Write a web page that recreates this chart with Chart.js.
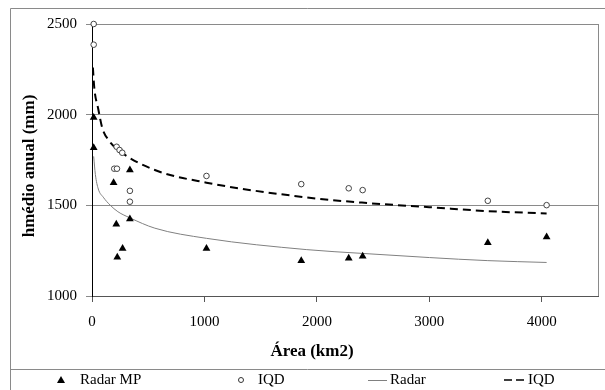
<!DOCTYPE html>
<html lang="pt">
<head>
<meta charset="UTF-8" />
<title>Área vs hmédio anual</title>
<script src="https://cdn.jsdelivr.net/npm/chart.js"></script>
<style>
  body { margin: 0; background: #fff; }
  #wrap { position: relative; width: 605px; height: 390px; }
</style>
</head>
<body>
<div id="wrap"><canvas id="chart" width="605" height="390"></canvas></div>
<script>
  // observed points (area km2, mm)
  const radarMpArea = [15, 15, 192, 337, 216, 337, 272, 225, 1018, 1861, 2283, 2407, 3520, 4043];
  const radarMpValue = [1985, 1818, 1625, 1695, 1395, 1424, 1262, 1214, 1262, 1194, 1208, 1219, 1293, 1326];
  const iqdArea = [15, 15, 219, 245, 269, 198, 222, 337, 337, 1018, 1861, 2283, 2407, 3520, 4043];
  const iqdValue = [2500, 2386, 1823, 1805, 1790, 1702, 1702, 1580, 1520, 1662, 1617, 1594, 1584, 1525, 1501];

  // trend curves
  const radarFitArea = [15, 30, 56, 100, 160, 230, 337, 559, 1018, 1905, 2400, 3000, 3520, 4043];
  const radarFitValue = [1770, 1670, 1590, 1545, 1502, 1465, 1431, 1374, 1318, 1256, 1235, 1212, 1195, 1185];
  const iqdFitArea = [8, 20, 56, 92, 150, 233, 559, 1018, 1905, 2400, 3000, 3520, 4043];
  const iqdFitValue = [2260, 2150, 2030, 1925, 1858, 1805, 1695, 1625, 1544, 1515, 1490, 1468, 1455];

  const xTicks = [0, 1000, 2000, 3000, 4000];
  const yTicks = [1000, 1500, 2000, 2500];

  const pts = (xs, ys) => xs.map((x, i) => ({ x: x, y: ys[i] }));
  const FONT = "'Liberation Serif', 'DejaVu Serif', serif";
  const GRID = '#8a8a8a';

  const extras = {
    id: 'extras',
    afterDraw(chart) {
      const ctx = chart.ctx;
      const a = chart.chartArea;
      ctx.save();
      // outer frame + legend separator
      ctx.strokeStyle = GRID;
      ctx.lineWidth = 1;
      ctx.beginPath();
      ctx.moveTo(10.5, 390); ctx.lineTo(10.5, 8.5); ctx.lineTo(605, 8.5);
      ctx.moveTo(10, 369.5); ctx.lineTo(605, 369.5);
      ctx.moveTo(a.right + 0.5, a.top); ctx.lineTo(a.right + 0.5, a.bottom);
      ctx.stroke();

      // axis titles
      ctx.fillStyle = '#000';
      ctx.font = 'bold 17px ' + FONT;
      ctx.textAlign = 'center';
      ctx.textBaseline = 'middle';
      ctx.fillText('Área (km2)', 312, 352);
      ctx.save();
      ctx.translate(30, 166);
      ctx.rotate(-Math.PI / 2);
      ctx.fillText('hmédio anual (mm)', 0, 0);
      ctx.restore();

      // legend
      const ly = 380;
      ctx.font = '15px ' + FONT;
      ctx.textAlign = 'left';
      ctx.fillStyle = '#000';
      ctx.beginPath();
      ctx.moveTo(61, ly - 4); ctx.lineTo(65, ly + 3); ctx.lineTo(57, ly + 3); ctx.closePath();
      ctx.fill();
      ctx.fillText('Radar MP', 80, ly);

      ctx.strokeStyle = '#333';
      ctx.beginPath();
      ctx.arc(241, ly, 2.5, 0, Math.PI * 2);
      ctx.stroke();
      ctx.fillText('IQD', 258, ly);

      ctx.strokeStyle = '#808080';
      ctx.beginPath();
      ctx.moveTo(368, ly + 0.5); ctx.lineTo(387, ly + 0.5);
      ctx.stroke();
      ctx.fillText('Radar', 390, ly);

      ctx.strokeStyle = '#000';
      ctx.lineWidth = 1.5;
      ctx.setLineDash([8, 4]);
      ctx.beginPath();
      ctx.moveTo(504, ly); ctx.lineTo(524, ly);
      ctx.stroke();
      ctx.setLineDash([]);
      ctx.fillText('IQD', 528, ly);
      ctx.restore();
    }
  };

  new Chart(document.getElementById('chart'), {
    type: 'scatter',
    data: {
      datasets: [
        {
          label: 'Radar MP',
          data: pts(radarMpArea, radarMpValue),
          pointStyle: 'triangle',
          pointRadius: 4.5,
          backgroundColor: '#000',
          borderColor: '#000',
          borderWidth: 0,
          clip: false,
          order: 1
        },
        {
          label: 'IQD',
          data: pts(iqdArea, iqdValue),
          pointStyle: 'circle',
          pointRadius: 2.8,
          backgroundColor: '#fff',
          borderColor: '#444',
          borderWidth: 1,
          clip: false,
          order: 2
        },
        {
          label: 'Radar',
          data: pts(radarFitArea, radarFitValue),
          showLine: true,
          pointRadius: 0,
          borderColor: '#808080',
          borderWidth: 1,
          cubicInterpolationMode: 'monotone',
          order: 4
        },
        {
          label: 'IQD',
          data: pts(iqdFitArea, iqdFitValue),
          showLine: true,
          pointRadius: 0,
          borderColor: '#000',
          borderWidth: 2,
          borderDash: [8, 5],
          cubicInterpolationMode: 'monotone',
          order: 3
        }
      ]
    },
    options: {
      responsive: false,
      animation: false,
      layout: { padding: { left: 0, top: 24, right: 7, bottom: 0 } },
      plugins: {
        legend: { display: false },
        tooltip: { enabled: false }
      },
      scales: {
        x: {
          type: 'linear',
          min: 0,
          max: 4500,
          afterBuildTicks: s => { s.ticks = xTicks.map(v => ({ value: v })); },
          afterFit: s => { s.height = 94; },
          grid: { drawOnChartArea: false, drawTicks: true, tickLength: 6, color: '#555' },
          border: { color: '#555' },
          ticks: { padding: 11, color: '#000', font: { family: FONT, size: 15 }, callback: v => String(v) }
        },
        y: {
          min: 1000,
          max: 2500,
          afterBuildTicks: s => { s.ticks = yTicks.map(v => ({ value: v })); },
          afterFit: s => { s.width = 92; },
          grid: { color: GRID, tickLength: 6 },
          border: { color: '#000' },
          ticks: { padding: 9, color: '#000', font: { family: FONT, size: 15 }, callback: v => String(v) }
        }
      }
    },
    plugins: [extras]
  });
</script>
</body>
</html>
